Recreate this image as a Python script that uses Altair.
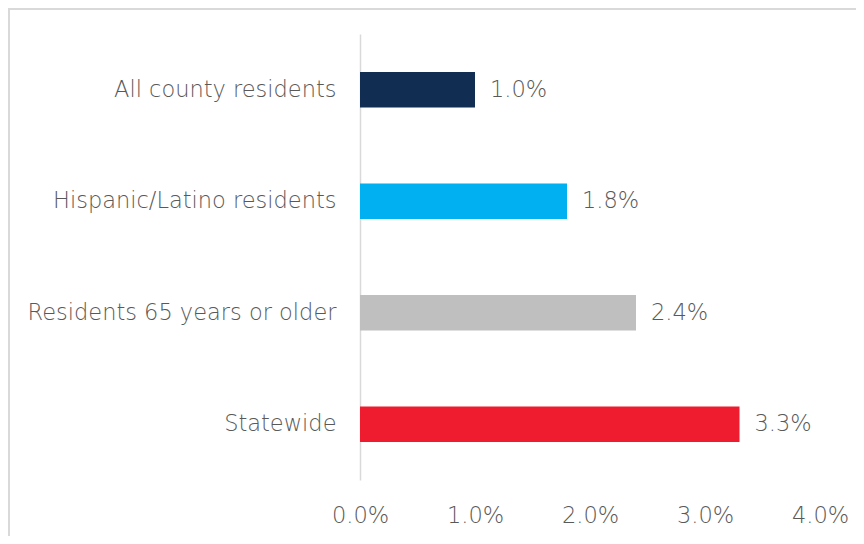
import altair as alt
import pandas as pd

categories = ["All county residents", "Hispanic/Latino residents", "Residents 65 years or older", "Statewide"]
values = [1.0, 1.8, 2.4, 3.3]
colors = ["#112d52", "#00b0f0", "#bfbfbf", "#ee1c2e"]
x_ticks = [0, 1, 2, 3, 4]

df = pd.DataFrame({"cat": categories, "val": values, "color": colors})
df["label"] = df["val"].map(lambda v: f"{v:.1f}%")

FONT = "DejaVu Sans"
GRAY = "#595959"
FS = 22.5
FW = 200

y_enc = alt.Y("cat:N", sort=categories, title=None,
              scale=alt.Scale(paddingInner=0.68, paddingOuter=0.34),
              axis=alt.Axis(ticks=False, labelPadding=24, labelFontSize=FS, labelFont=FONT,
                            labelColor=GRAY, labelFontWeight=FW, domainColor="#d9d9d9",
                            domainWidth=1.5, labelLimit=400))
x_enc = alt.X("val:Q", title=None,
              scale=alt.Scale(domain=[0, 4], nice=False),
              axis=alt.Axis(values=x_ticks, labelExpr="format(datum.value, '.1f') + '%'",
                            domain=False, ticks=False, grid=False, labelPadding=24,
                            labelFlush=False, labelOverlap=False,
                            labelFontSize=FS, labelFont=FONT, labelColor=GRAY,
                            labelFontWeight=FW))

bars = alt.Chart(df).mark_bar().encode(
    x=x_enc, y=y_enc,
    color=alt.Color("color:N", scale=None, legend=None),
)

text = alt.Chart(df).mark_text(align="left", dx=15, fontSize=FS, font=FONT,
                               color=GRAY, fontWeight=FW).encode(
    x="val:Q", y=alt.Y("cat:N", sort=categories), text="label:N")

frame = alt.Chart(df).mark_rect(fill=None, stroke="#d9d9d9", strokeWidth=2).encode(
    x=alt.value(-351), x2=alt.value(520), y=alt.value(-25), y2=alt.value(600))

chart = alt.layer(frame, bars, text).properties(
    width=460, height=446,
    autosize=alt.AutoSizeParams(type="none"),
    padding={"left": 352, "top": 26, "right": 36, "bottom": 56},
    background="white",
).configure_view(strokeWidth=0, stroke="transparent")

chart.save("out.html", embed_options={"renderer": "svg", "actions": False})
